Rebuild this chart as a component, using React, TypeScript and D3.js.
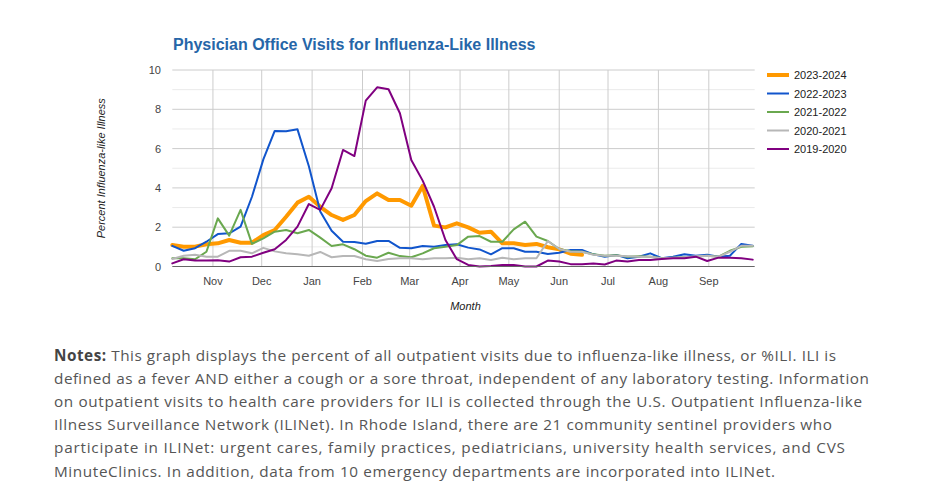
import React from "react";
import * as d3 from "d3";

// ---- Data ----
const seasons = ["2023-2024", "2022-2023", "2021-2022", "2020-2021", "2019-2020"];
const seasonColors = ["#ff9900", "#1155cc", "#6aa84f", "#b7b7b7", "#800080"];
const seasonWidths = [4, 2, 2, 2, 2];

// weekly %ILI, first week ending Oct 7 (MMWR week 40)
const ili2324 = [1.09, 1.01, 1.01, 1.13, 1.18, 1.35, 1.21, 1.21, 1.6, 1.86, 2.53, 3.25, 3.55, 3.04, 2.62, 2.37, 2.62, 3.33, 3.72, 3.38, 3.38, 3.09, 4.1, 2.08, 1.99, 2.2, 1.99, 1.72, 1.77, 1.18, 1.18, 1.09, 1.15, 0.98, 0.87, 0.65, 0.6];
const ili2223 = [1.05, 0.8, 0.93, 1.26, 1.65, 1.69, 2.03, 3.55, 5.45, 6.9, 6.88, 6.98, 5.1, 2.8, 1.82, 1.26, 1.25, 1.16, 1.3, 1.3, 0.95, 0.93, 1.04, 1.01, 1.09, 1.13, 0.96, 0.87, 0.62, 0.93, 0.93, 0.75, 0.75, 0.64, 0.7, 0.84, 0.84, 0.62, 0.5, 0.59, 0.42, 0.5, 0.67, 0.42, 0.5, 0.62, 0.55, 0.6, 0.5, 0.55, 1.15, 1.06];
const ili2122 = [0.42, 0.42, 0.37, 0.75, 2.45, 1.57, 2.88, 1.15, 1.43, 1.77, 1.86, 1.69, 1.86, 1.47, 1.04, 1.13, 0.88, 0.55, 0.45, 0.7, 0.53, 0.47, 0.67, 0.93, 1.01, 1.09, 1.52, 1.55, 1.26, 1.26, 1.89, 2.28, 1.52, 1.3, 0.89, 0.78, 0.75, 0.62, 0.55, 0.57, 0.5, 0.52, 0.5, 0.42, 0.45, 0.47, 0.5, 0.55, 0.5, 0.8, 1.0, 1.03];
const ili2021 = [0.38, 0.55, 0.6, 0.5, 0.5, 0.8, 0.8, 0.67, 0.95, 0.77, 0.68, 0.62, 0.55, 0.74, 0.47, 0.53, 0.53, 0.37, 0.28, 0.38, 0.42, 0.42, 0.37, 0.42, 0.42, 0.45, 0.37, 0.42, 0.33, 0.45, 0.37, 0.42, 0.42, 1.3, 0.89, 0.75, 0.75, 0.6, 0.55, 0.55, 0.52, 0.5, 0.5, 0.42, 0.45, 0.47, 0.52, 0.55, 0.5, 0.75, 1.05, 1.06];
const ili1920 = [0.16, 0.37, 0.3, 0.3, 0.32, 0.25, 0.47, 0.5, 0.7, 0.88, 1.35, 2.03, 3.18, 2.88, 3.98, 5.93, 5.62, 8.44, 9.12, 9.02, 7.8, 5.42, 4.37, 3.04, 1.35, 0.37, 0.08, 0.0, 0.02, 0.08, 0.08, 0.0, 0.0, 0.3, 0.25, 0.12, 0.12, 0.15, 0.1, 0.3, 0.25, 0.33, 0.33, 0.38, 0.42, 0.42, 0.5, 0.28, 0.45, 0.45, 0.42, 0.35];
const seriesValues = [ili2324, ili2223, ili2122, ili2021, ili1920];

const firstWeek = new Date(2023, 9, 7);
const weekCount = 52;
const monthTicks = ["Nov", "Dec", "Jan", "Feb", "Mar", "Apr", "May", "Jun", "Jul", "Aug", "Sep"];
const monthTickDates = [
  new Date(2023, 10, 1), new Date(2023, 11, 1), new Date(2024, 0, 1), new Date(2024, 1, 1),
  new Date(2024, 2, 1), new Date(2024, 3, 1), new Date(2024, 4, 1), new Date(2024, 5, 1),
  new Date(2024, 6, 1), new Date(2024, 7, 1), new Date(2024, 8, 1),
];
const yMajorTicks = [0, 2, 4, 6, 8, 10];
const yMinorTicks = [1, 3, 5, 7, 9];

const title = "Physician Office Visits for Influenza-Like Illness";
const xTitle = "Month";
const yTitle = "Percent Influenza-like Illness";

const notesLines: { bold?: string; text: string; w: number }[] = [
  { bold: "Notes:", text: " This graph displays the percent of all outpatient visits due to influenza-like illness, or %ILI. ILI is", w: 782 },
  { text: "defined as a fever AND either a cough or a sore throat, independent of any laboratory testing. Information", w: 815 },
  { text: "on outpatient visits to health care providers for ILI is collected through the U.S. Outpatient Influenza-like", w: 808 },
  { text: "Illness Surveillance Network (ILINet). In Rhode Island, there are 21 community sentinel providers who", w: 778 },
  { text: "participate in ILINet: urgent cares, family practices, pediatricians, university health services, and CVS", w: 791 },
  { text: "MinuteClinics. In addition, data from 10 emergency departments are incorporated into ILINet.", w: 721 },
];

export default function App() {
  const W = 933, H = 492;
  const left = 172.3, right = 752.7, top = 70, bottom = 266.5;
  const weekDates = d3.range(weekCount).map((i) => d3.timeDay.offset(firstWeek, 7 * i));
  const x = d3.scaleTime().domain([weekDates[0], weekDates[weekCount - 1]]).range([left, right]);
  const y = d3.scaleLinear().domain([0, 10]).range([bottom, top]);
  const line = d3
    .line<number>()
    .x((_, i) => x(weekDates[i]))
    .y((d) => y(d));

  const font = "Arial, 'Liberation Sans', sans-serif";

  return (
    <div style={{ position: "absolute", left: 0, top: 0 }}>
      <svg width={W} height={H} style={{ display: "block", background: "#fff" }}>
        <text x={173} y={49.5} fontFamily={font} fontWeight="bold" fontSize={16} fill="#2666a8">
          {title}
        </text>
        {/* minor grid */}
        {yMinorTicks.map((t) => (
          <line key={"mn" + t} x1={left} x2={right + 2} y1={y(t)} y2={y(t)} stroke="#ebebeb" strokeWidth={1} />
        ))}
        {yMajorTicks.slice(1).map((t) => (
          <line key={"mj" + t} x1={left} x2={right + 2} y1={y(t)} y2={y(t)} stroke="#cccccc" strokeWidth={1} />
        ))}
        {monthTickDates.map((d, i) => (
          <line key={"v" + i} x1={x(d)} x2={x(d)} y1={top} y2={bottom} stroke="#cccccc" strokeWidth={1} />
        ))}
        {/* y labels */}
        {yMajorTicks.map((t) => (
          <text key={"yl" + t} x={161} y={y(t) + 4} textAnchor="end" fontFamily={font} fontSize={11} fill="#444">
            {t}
          </text>
        ))}
        {monthTicks.map((m, i) => (
          <text key={"xl" + m} x={x(monthTickDates[i])} y={285} textAnchor="middle" fontFamily={font} fontSize={11} fill="#444">
            {m}
          </text>
        ))}
        <text x={(left + right) / 2 + 3} y={310} textAnchor="middle" fontFamily={font} fontSize={11} fontStyle="italic" fill="#222">
          {xTitle}
        </text>
        <text
          transform={`translate(105, ${(top + bottom) / 2}) rotate(-90)`}
          textAnchor="middle"
          fontFamily={font}
          fontSize={11}
          fontStyle="italic"
          fill="#222"
        >
          {yTitle}
        </text>
        {/* series */}
        {seriesValues.map((vals, si) => (
          <path
            key={seasons[si]}
            d={line(vals) || ""}
            fill="none"
            stroke={seasonColors[si]}
            strokeWidth={seasonWidths[si]}
            strokeLinejoin="round"
            strokeLinecap="round"
          />
        ))}
        {/* baseline */}
        <line x1={left} x2={right + 2} y1={y(0)} y2={y(0)} stroke="#666" strokeWidth={1} />
        {/* legend */}
        {seasons.map((s, i) => {
          const ly = 75 + i * 18.5;
          return (
            <g key={"lg" + s}>
              <line x1={767} x2={789} y1={ly} y2={ly} stroke={seasonColors[i]} strokeWidth={seasonWidths[i]} />
              <text x={794} y={ly + 4} fontFamily={font} fontSize={11} fill="#222">
                {s}
              </text>
            </g>
          );
        })}
        {/* notes */}
        {notesLines.map((ln, i) => (
          <text
            key={"n" + i}
            x={54}
            y={360.5 + i * 23.2}
            fontFamily="'Open Sans', sans-serif"
            fontSize={15.3}
            fill="#555"
            textLength={ln.w}
            lengthAdjust="spacing"
          >
            {ln.bold ? (
              <tspan fontWeight="bold" fill="#444">
                {ln.bold}
              </tspan>
            ) : null}
            <tspan>{ln.text}</tspan>
          </text>
        ))}
      </svg>
    </div>
  );
}
